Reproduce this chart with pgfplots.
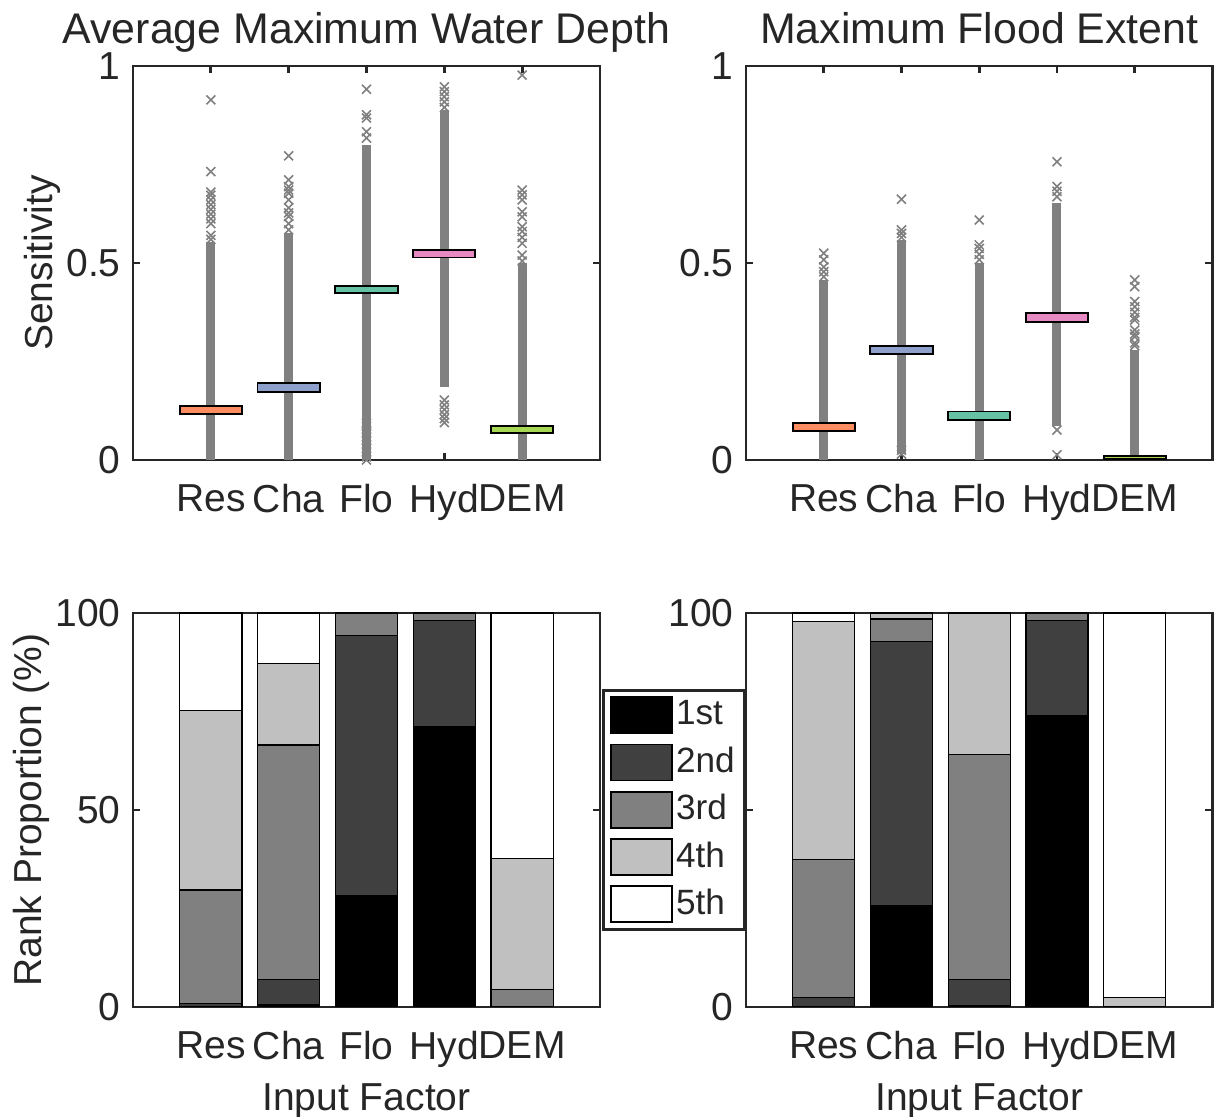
\documentclass[border=0pt]{standalone}
\usepackage{fontspec}
\setmainfont{Liberation Sans}
\usepackage{pgfplots}
\pgfplotsset{compat=1.18}
\usepackage{pgfplotstable}

\definecolor{axc}{HTML}{262626}
\definecolor{ptc}{HTML}{808080}
\definecolor{cRes}{HTML}{FC8D62}
\definecolor{cCha}{HTML}{8DA0CB}
\definecolor{cFlo}{HTML}{66C2A5}
\definecolor{cHyd}{HTML}{E78AC3}
\definecolor{cDEM}{HTML}{A6D854}
\definecolor{gB}{HTML}{404040}
\definecolor{gC}{HTML}{808080}
\definecolor{gD}{HTML}{C0C0C0}

\newcommand{\tickfont}{\fontsize{11.1}{13}\selectfont}
\newcommand{\legfont}{\fontsize{10}{12}\selectfont}
\newcommand{\titlefont}{\fontsize{12.2}{14}\selectfont}

% rank proportions (%), 1st..5th
\pgfplotstableread{
x r1 r2 r3 r4 r5
1 0 0.8 28.9 45.5 24.8
2 0.5 6.5 59.5 20.7 12.8
3 28.3 65.9 5.8 0 0
4 71.1 26.9 2.0 0 0
5 0 0 4.5 33.2 62.3
}\rankdepth
\pgfplotstableread{
x r1 r2 r3 r4 r5
1 0 2.4 35.1 60.3 2.2
2 25.8 66.9 5.8 1.5 0
3 0.3 6.6 57.1 36.0 0
4 73.9 24.1 2.0 0 0
5 0 0 0 2.4 97.6
}\rankextent

\pgfplotsset{
  panel/.style={
    scale only axis, width=4.67cm, height=3.94cm, anchor=south west,
    xmin=0, xmax=6, xtick={1,2,3,4,5}, xticklabels={Res,Cha,Flo,Hyd,DEM},
    tick align=inside, tick pos=both, major tick length=0.07cm,
    axis line style={draw=axc, line width=0.8pt},
    tick style={draw=axc, line width=0.8pt},
    tick label style={font=\tickfont, text=axc},
    xticklabel style={yshift=-0.12cm},
    label style={font=\tickfont, text=axc},
    ylabel shift=-0.18cm,
    xlabel style={yshift=0.08cm},
    title style={font=\titlefont, text=axc, text depth=0.22em, yshift=-0.19cm},
    /pgf/number format/assume math mode=true,
  },
  sens/.style={panel, ymin=0, ymax=1, ytick={0,0.5,1}, clip=false},
  rank/.style={panel, ymin=0, ymax=100, ytick={0,50,100},
    ybar stacked, bar width=0.8},
  col/.style={draw=ptc, line width=0.09cm, forget plot},
  outl/.style={only marks, mark=x, mark size=1.8pt, draw=ptc,
    mark options={line width=0.45pt, solid}, forget plot},
  bx/.style={draw=black, line width=0.55pt, fill=#1, forget plot},
  rk/.style={fill=#1, draw=black, line width=0.35pt,
    legend image code/.code={\draw[##1, line width=0.5pt] (0cm,-0.18cm) rectangle (0.61cm,0.18cm);}},
}

\begin{document}
\begin{tikzpicture}

% ---- top left: depth sensitivity
\begin{axis}[sens, at={(1.33cm,6.57cm)}, title={Average Maximum Water Depth}, ylabel={Sensitivity}]
\addplot[col] coordinates {(1,0) (1,0.554)};
\addplot[col] coordinates {(2,0) (2,0.575)};
\addplot[col] coordinates {(3,0.0) (3,0.80)};
\addplot[col] coordinates {(4,0.186) (4,0.888)};
\addplot[col] coordinates {(5,0) (5,0.499)};
\addplot[outl] coordinates {
 (1,0.914) (1,0.732) (1,0.680) (1,0.672) (1,0.660) (1,0.648) (1,0.636) (1,0.624) (1,0.612) (1,0.600) (1,0.570) (1,0.560)
 (2,0.772) (2,0.711) (2,0.694) (2,0.685) (2,0.677) (2,0.660) (2,0.640) (2,0.627) (2,0.618) (2,0.600) (2,0.584)
 (3,0.941) (3,0.876) (3,0.868) (3,0.833) (3,0.817)
 (3,0.093) (3,0.085) (3,0.076) (3,0.068) (3,0.059) (3,0.050) (3,0.038) (3,0.030) (3,0.021) (3,0.008) (3,0.0)
 (4,0.947) (4,0.935) (4,0.922) (4,0.909) (4,0.895)
 (4,0.152) (4,0.140) (4,0.128) (4,0.115) (4,0.105) (4,0.095)
 (5,0.977) (5,0.685) (5,0.673) (5,0.660) (5,0.630) (5,0.617) (5,0.592) (5,0.580) (5,0.565) (5,0.550) (5,0.520) (5,0.505)
};
\addplot[bx=cRes] coordinates {(0.6,0.117) (1.4,0.117) (1.4,0.137) (0.6,0.137)} -- cycle;
\addplot[bx=cCha] coordinates {(1.6,0.173) (2.4,0.173) (2.4,0.195) (1.6,0.195)} -- cycle;
\addplot[bx=cFlo] coordinates {(2.6,0.423) (3.4,0.423) (3.4,0.442) (2.6,0.442)} -- cycle;
\addplot[bx=cHyd] coordinates {(3.6,0.514) (4.4,0.514) (4.4,0.533) (3.6,0.533)} -- cycle;
\addplot[bx=cDEM] coordinates {(4.6,0.069) (5.4,0.069) (5.4,0.087) (4.6,0.087)} -- cycle;
\end{axis}

% ---- top right: extent sensitivity
\begin{axis}[sens, at={(7.46cm,6.57cm)}, width=4.665cm, title={Maximum Flood Extent}]
\addplot[col] coordinates {(1,0) (1,0.457)};
\addplot[col] coordinates {(2,0.015) (2,0.558)};
\addplot[col] coordinates {(3,0) (3,0.499)};
\addplot[col] coordinates {(4,0.085) (4,0.652)};
\addplot[col] coordinates {(5,0) (5,0.279)};
\addplot[outl] coordinates {
 (1,0.525) (1,0.508) (1,0.490) (1,0.478) (1,0.465)
 (2,0.662) (2,0.584) (2,0.575) (2,0.565) (2,0.025) (2,0.015)
 (3,0.609) (3,0.546) (3,0.537) (3,0.522) (3,0.508)
 (4,0.757) (4,0.694) (4,0.682) (4,0.668) (4,0.076) (4,0.013)
 (5,0.457) (5,0.440) (5,0.402) (5,0.389) (5,0.375) (5,0.362) (5,0.355) (5,0.330) (5,0.320) (5,0.313) (5,0.297) (5,0.290)
};
\addplot[bx=cRes] coordinates {(0.6,0.074) (1.4,0.074) (1.4,0.093) (0.6,0.093)} -- cycle;
\addplot[bx=cCha] coordinates {(1.6,0.268) (2.4,0.268) (2.4,0.289) (1.6,0.289)} -- cycle;
\addplot[bx=cFlo] coordinates {(2.6,0.102) (3.4,0.102) (3.4,0.123) (2.6,0.123)} -- cycle;
\addplot[bx=cHyd] coordinates {(3.6,0.351) (4.4,0.351) (4.4,0.372) (3.6,0.372)} -- cycle;
\addplot[bx=cDEM] coordinates {(4.6,0.002) (5.4,0.002) (5.4,0.010) (4.6,0.010)} -- cycle;
\end{axis}

% ---- bottom right: extent rank proportions (drawn first so the legend covers it)
\begin{axis}[rank, at={(7.46cm,1.10cm)}, width=4.665cm, xlabel={Input Factor}]
\addplot[rk=black] table[x=x, y=r1] {\rankextent};
\addplot[rk=gB] table[x=x, y=r2] {\rankextent};
\addplot[rk=gC] table[x=x, y=r3] {\rankextent};
\addplot[rk=gD] table[x=x, y=r4] {\rankextent};
\addplot[rk=white] table[x=x, y=r5] {\rankextent};
\end{axis}

% ---- bottom left: depth rank proportions
\begin{axis}[rank, at={(1.33cm,1.10cm)}, ylabel={Rank Proportion (\%)}, xlabel={Input Factor},
  legend style={at={(1.004,0.807)}, anchor=north west, draw=axc, line width=0.8pt,
    font=\legfont, text=axc, inner xsep=0.07cm, inner ysep=0.06cm, row sep=0.095cm,
    nodes={inner xsep=0.03cm, inner ysep=0.03cm}},
  legend cell align=left]
\addplot[rk=black] table[x=x, y=r1] {\rankdepth};
\addplot[rk=gB] table[x=x, y=r2] {\rankdepth};
\addplot[rk=gC] table[x=x, y=r3] {\rankdepth};
\addplot[rk=gD] table[x=x, y=r4] {\rankdepth};
\addplot[rk=white] table[x=x, y=r5] {\rankdepth};
\legend{1st,2nd,3rd,4th,5th}
\end{axis}

\pgfresetboundingbox
\path (0,0) rectangle (12.15cm,11.17cm);
\end{tikzpicture}
\end{document}
